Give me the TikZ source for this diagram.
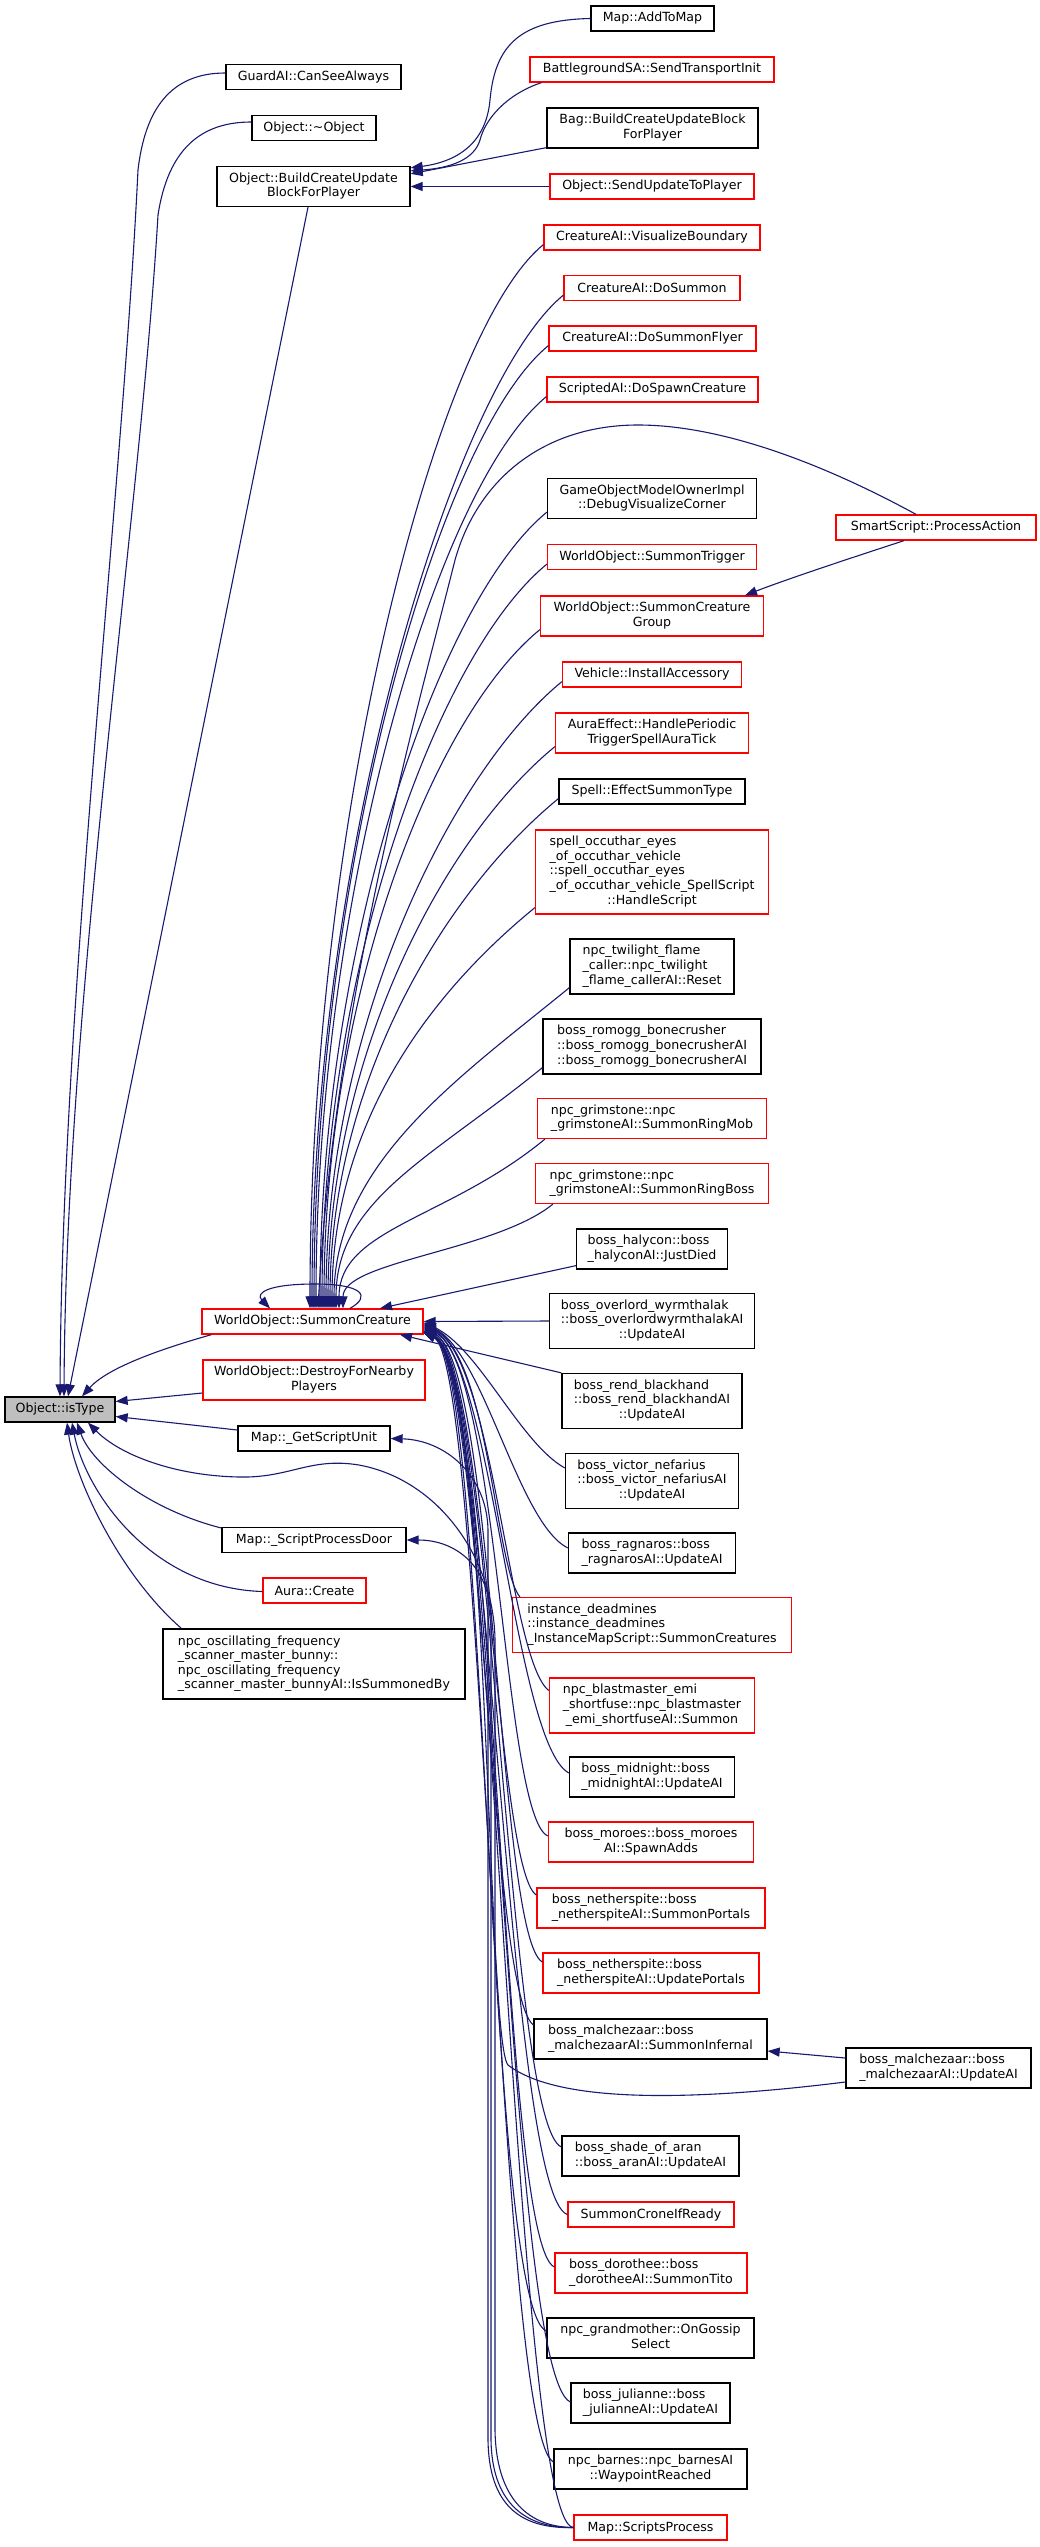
\documentclass[tikz,border=0pt]{standalone}
\usepackage{fontspec}
\setmainfont{DejaVu Sans}
\usetikzlibrary{arrows.meta}
\definecolor{edgec}{RGB}{25,25,112}
\definecolor{nodered}{RGB}{255,0,0}
\definecolor{isgray}{RGB}{191,191,191}
\newcommand{\ML}[2]{\begin{tabular}{@{}l@{}}#1\\\multicolumn{1}{@{}c@{}}{#2}\end{tabular}}
\begin{document}
\begin{tikzpicture}[x=1pt,y=1pt,
  nbox/.style={draw, line width=1.3pt, fill=white, inner sep=0pt, font=\fontsize{12.6pt}{14.6pt}\selectfont},
  bk/.style={nbox, draw=black},
  rd/.style={nbox, draw=nodered},
  gy/.style={nbox, draw=black, fill=isgray},
  h1/.style={minimum height=25pt},
  h2/.style={minimum height=40pt},
  h3/.style={minimum height=55pt},
  h4/.style={minimum height=70pt},
  h5/.style={minimum height=84pt},
  ed/.style={draw=edgec, line width=1.1pt, -{Triangle[length=12pt,width=9pt]}}
]
\useasboundingbox (0,0) rectangle (1039,-2547);
\fill[white] (0,0) rectangle (1039,-2547);

% right column
\node[bk,h1,minimum width=123pt] (mapadd) at (652.5,-18.5) {Map::AddToMap};
\node[rd,h1,minimum width=244pt] (bgsa) at (652,-69.5) {BattlegroundSA::SendTransportInit};
\node[bk,h2,minimum width=211pt] (bag) at (652.5,-128) {\ML{Bag::BuildCreateUpdateBlock}{ForPlayer}};
\node[rd,h1,minimum width=204pt] (sendupd) at (652,-186.5) {Object::SendUpdateToPlayer};
\node[rd,h1,minimum width=216pt] (visb) at (652,-237.5) {CreatureAI::VisualizeBoundary};
\node[rd,h1,minimum width=176pt] (dosum) at (652,-288) {CreatureAI::DoSummon};
\node[rd,h1,minimum width=207pt] (dosumf) at (652.5,-338.5) {CreatureAI::DoSummonFlyer};
\node[rd,h1,minimum width=211pt] (dospawn) at (652.5,-389.5) {ScriptedAI::DoSpawnCreature};
\node[bk,h2,minimum width=209pt] (gomo) at (652,-498.5) {\ML{GameObjectModelOwnerImpl}{::DebugVisualizeCorner}};
\node[rd,h1,minimum width=200pt] (smart) at (936,-527.5) {SmartScript::ProcessAction};
\node[rd,h1,minimum width=209pt] (sumtrig) at (652,-557) {WorldObject::SummonTrigger};
\node[rd,h2,minimum width=223pt] (sumgrp) at (652,-616) {\ML{WorldObject::SummonCreature}{Group}};
\node[rd,h1,minimum width=179pt] (vehicle) at (652,-674.5) {Vehicle::InstallAccessory};
\node[rd,h2,minimum width=193pt] (auraeff) at (652,-733) {\ML{AuraEffect::HandlePeriodic}{TriggerSpellAuraTick}};
\node[bk,h1,minimum width=186pt] (spellsum) at (652,-791.5) {Spell::EffectSummonType};
\node[rd,h5,minimum width=233pt] (occu) at (652,-872) {\ML{spell\_occuthar\_eyes\\\_of\_occuthar\_vehicle\\::spell\_occuthar\_eyes\\\_of\_occuthar\_vehicle\_SpellScript}{::HandleScript}};
\node[bk,h3,minimum width=164pt] (twil) at (652,-966.5) {\ML{npc\_twilight\_flame\\\_caller::npc\_twilight}{\_flame\_callerAI::Reset}};
\node[bk,h3,minimum width=218pt] (romogg) at (652,-1046.5) {\ML{boss\_romogg\_bonecrusher\\::boss\_romogg\_bonecrusherAI}{::boss\_romogg\_bonecrusherAI}};
\node[rd,h2,minimum width=229pt] (ringmob) at (652,-1118.5) {\ML{npc\_grimstone::npc}{\_grimstoneAI::SummonRingMob}};
\node[rd,h2,minimum width=233pt] (ringboss) at (652,-1183.5) {\ML{npc\_grimstone::npc}{\_grimstoneAI::SummonRingBoss}};
\node[bk,h2,minimum width=151pt] (halycon) at (652,-1249) {\ML{boss\_halycon::boss}{\_halyconAI::JustDied}};
\node[bk,h3,minimum width=205pt] (overlord) at (652,-1321) {\ML{boss\_overlord\_wyrmthalak\\::boss\_overlordwyrmthalakAI}{::UpdateAI}};
\node[bk,h3,minimum width=180pt] (rend) at (652,-1401) {\ML{boss\_rend\_blackhand\\::boss\_rend\_blackhandAI}{::UpdateAI}};
\node[bk,h3,minimum width=173pt] (victor) at (652,-1481) {\ML{boss\_victor\_nefarius\\::boss\_victor\_nefariusAI}{::UpdateAI}};
\node[bk,h2,minimum width=167pt] (ragnaros) at (652,-1553) {\ML{boss\_ragnaros::boss}{\_ragnarosAI::UpdateAI}};
\node[rd,h3,minimum width=279pt] (deadmines) at (652,-1625) {\ML{instance\_deadmines\\::instance\_deadmines}{\_InstanceMapScript::SummonCreatures}};
\node[rd,h3,minimum width=205pt] (blast) at (652,-1705.5) {\ML{npc\_blastmaster\_emi\\\_shortfuse::npc\_blastmaster}{\_emi\_shortfuseAI::Summon}};
\node[bk,h2,minimum width=165pt] (midnight) at (652,-1777) {\ML{boss\_midnight::boss}{\_midnightAI::UpdateAI}};
\node[rd,h2,minimum width=205pt] (moroes) at (651,-1842) {\ML{boss\_moroes::boss\_moroes}{AI::SpawnAdds}};
\node[rd,h2,minimum width=228pt] (nsumm) at (651,-1908) {\ML{boss\_netherspite::boss}{\_netherspiteAI::SummonPortals}};
\node[rd,h2,minimum width=216pt] (nupd) at (651,-1973) {\ML{boss\_netherspite::boss}{\_netherspiteAI::UpdatePortals}};
\node[bk,h2,minimum width=233pt] (malinf) at (650.5,-2039) {\ML{boss\_malchezaar::boss}{\_malchezaarAI::SummonInfernal}};
\node[bk,h2,minimum width=185pt] (malupd) at (938.5,-2068) {\ML{boss\_malchezaar::boss}{\_malchezaarAI::UpdateAI}};
\node[bk,h2,minimum width=177pt] (aran) at (650.5,-2156) {\ML{boss\_shade\_of\_aran}{::boss\_aranAI::UpdateAI}};
\node[rd,h1,minimum width=166pt] (crone) at (651,-2214.5) {SummonCroneIfReady};
\node[rd,h2,minimum width=192pt] (doro) at (651,-2273) {\ML{boss\_dorothee::boss}{\_dorotheeAI::SummonTito}};
\node[bk,h2,minimum width=207pt] (grand) at (650.5,-2338) {\ML{npc\_grandmother::OnGossip}{Select}};
\node[bk,h2,minimum width=159pt] (jul) at (650.5,-2403) {\ML{boss\_julianne::boss}{\_julianneAI::UpdateAI}};
\node[bk,h2,minimum width=193pt] (barnes) at (650.5,-2469) {\ML{npc\_barnes::npc\_barnesAI}{::WaypointReached}};
\node[rd,h1,minimum width=153pt] (scripts) at (650.5,-2527.5) {Map::ScriptsProcess};

% middle column
\node[bk,h1,minimum width=175pt] (guard) at (313.5,-77) {GuardAI::CanSeeAlways};
\node[bk,h1,minimum width=124pt] (dtor) at (314,-128) {Object::\textasciitilde Object};
\node[bk,h2,minimum width=193pt] (bcub) at (313.5,-186.5) {\ML{Object::BuildCreateUpdate}{BlockForPlayer}};
\node[rd,h1,minimum width=221pt] (sc) at (312.5,-1321.5) {WorldObject::SummonCreature};
\node[rd,h2,minimum width=222pt] (destroy) at (314,-1380) {\ML{WorldObject::DestroyForNearby}{Players}};
\node[bk,h1,minimum width=152pt] (gsu) at (314,-1438.5) {Map::\_GetScriptUnit};
\node[bk,h1,minimum width=184pt] (spd) at (314,-1540) {Map::\_ScriptProcessDoor};
\node[rd,h1,minimum width=103pt] (auracr) at (314.5,-1590.5) {Aura::Create};
\node[bk,h4,minimum width=302pt] (osc) at (314,-1664) {\ML{npc\_oscillating\_frequency\\\_scanner\_master\_bunny::\\npc\_oscillating\_frequency}{\_scanner\_master\_bunnyAI::IsSummonedBy}};

% left
\node[gy,h1,minimum width=110pt] (istype) at (60,-1409.5) {Object::isType};

% callers of BuildCreateUpdateBlockForPlayer
\draw[ed] (mapadd.west) .. controls (520,-20) and (495,-45) .. (490,-100) .. controls (486,-145) and (455,-162) .. ([yshift=-2pt]bcub.north east);
\draw[ed] ([xshift=12pt]bgsa.south west) .. controls (505,-95) and (485,-120) .. (480,-140) .. controls (474,-160) and (450,-168) .. ([yshift=-5pt]bcub.north east);
\draw[ed] ([yshift=1pt]bag.south west) -- ([yshift=-8pt]bcub.north east);
\draw[ed] (sendupd.west) -- (bcub.east);

% callers of isType
\draw[ed] ([yshift=4pt]guard.west) .. controls (170,-73) and (145,-110) .. (138,-170) .. controls (122,-500) and (62,-1000) .. (istype.north);
\draw[ed] ([yshift=6pt]dtor.west) .. controls (200,-122) and (168,-150) .. (158,-215) .. controls (140,-520) and (66,-1000) .. ([xshift=4pt]istype.north);
\draw[ed] ([xshift=-5.5pt]bcub.south) -- ([xshift=8pt]istype.north);
\draw[ed] ([xshift=10pt]sc.south west) .. controls (175,-1345) and (110,-1365) .. ([xshift=22pt]istype.north);
\draw[ed] ([yshift=-13pt]destroy.west) -- ([yshift=8pt]istype.east);
\draw[ed] ([yshift=8.5pt]gsu.west) -- ([yshift=-7pt]istype.east);
\draw[ed] ([yshift=12pt]spd.west) .. controls (150,-1510) and (92,-1465) .. ([xshift=17pt]istype.south);
\draw[ed] ([yshift=-1pt]auracr.west) .. controls (150,-1588) and (85,-1490) .. ([xshift=12pt]istype.south);
\draw[ed] ([xshift=19pt]osc.north west) .. controls (120,-1575) and (75,-1480) .. ([xshift=7pt]istype.south);

% Map::ScriptsProcess
\draw[ed] (scripts.west) .. controls (520,-2529) and (489,-2505) .. (488,-2440) -- (488,-1530) .. controls (487,-1475) and (445,-1440) .. (gsu.east);
\draw[ed] (scripts.west) .. controls (522,-2528) and (492,-2500) .. (491,-2440) -- (491,-1620) .. controls (490,-1565) and (455,-1540) .. (spd.east);
\draw[ed] (scripts.west) .. controls (525,-2527) and (496,-2495) .. (495,-2430) -- (495,-1640) .. controls (494,-1560) and (440,-1480) .. (359,-1465) .. controls (310,-1457) and (290,-1478) .. (240,-1477) .. controls (175,-1476) and (120,-1455) .. ([xshift=28pt]istype.south);
\draw[ed] (scripts.west) .. controls +(-60,5) and +(70,-30) .. ([yshift=-11pt]sc.east);

% lower callers of SummonCreature
\draw[ed] (overlord.west) -- (sc.east);
\draw[ed] (rend.north west) -- ([xshift=87.5pt]sc.south);
\draw[ed] ([yshift=4pt]halycon.south west) -- ([xshift=67.5pt]sc.north);
\draw[ed] ([yshift=13pt]victor.west) .. controls +(-45,25) and +(55,-25) .. ([yshift=-1pt]sc.east);
\draw[ed] ([yshift=5pt]ragnaros.west) .. controls +(-50,25) and +(60,-28) .. ([yshift=-2pt]sc.east);
\draw[ed] ([xshift=8pt]deadmines.north west) .. controls +(-25,30) and +(65,-30) .. ([yshift=-3pt]sc.east);
\draw[ed] ([yshift=15pt]blast.west) .. controls +(-40,30) and +(70,-30) .. ([yshift=-4pt]sc.east);
\draw[ed] ([yshift=4pt]midnight.west) .. controls +(-55,30) and +(68,-30) .. ([yshift=-5pt]sc.east);
\draw[ed] ([yshift=6pt]moroes.west) .. controls +(-45,20) and +(75,-32) .. ([yshift=-6pt]sc.east);
\draw[ed] ([yshift=13pt]nsumm.west) .. controls +(-40,25) and +(62,-28) .. ([yshift=-7pt]sc.east);
\draw[ed] ([yshift=11pt]nupd.west) .. controls +(-45,25) and +(72,-30) .. ([yshift=-8pt]sc.east);
\draw[ed] ([yshift=14pt]malinf.west) .. controls +(-45,35) and +(60,-30) .. ([yshift=-9pt]sc.east);
\draw[ed] ([yshift=9pt]aran.west) .. controls +(-55,25) and +(70,-30) .. ([yshift=-10pt]sc.east);
\draw[ed] (crone.west) .. controls +(-60,20) and +(66,-30) .. ([yshift=-10.5pt]sc.east);
\draw[ed] ([yshift=6pt]doro.west) .. controls +(-55,25) and +(74,-30) .. ([yshift=-11pt]sc.east);
\draw[ed] ([yshift=7pt]grand.west) .. controls +(-60,25) and +(64,-30) .. ([yshift=-11pt]sc.east);
\draw[ed] ([yshift=1pt]jul.west) .. controls +(-65,30) and +(72,-30) .. ([yshift=-11pt]sc.east);
\draw[ed] ([yshift=7pt]barnes.west) .. controls +(-55,30) and +(60,-30) .. ([yshift=-11pt]sc.east);
\draw[ed] ([yshift=-14pt]malupd.west) .. controls (700,-2100) and (560,-2105) .. (508,-2065) .. controls (486,-2040) and (490,-1360) .. ([yshift=-9.5pt]sc.east);
\draw[ed] ([yshift=10pt]malupd.west) -- ([yshift=-12pt]malinf.east);

% upper callers of SummonCreature
\draw[ed] ([yshift=6pt]visb.south west) .. controls +(-110,-90) and +(0,479) .. ([xshift=-2.5pt]sc.north);
\draw[ed] ([yshift=6pt]dosum.south west) .. controls +(-110,-90) and +(0,456) .. ([xshift=-0.5pt]sc.north);
\draw[ed] ([yshift=6pt]dosumf.south west) .. controls +(-110,-90) and +(0,434) .. ([xshift=1.5pt]sc.north);
\draw[ed] ([yshift=6pt]dospawn.south west) .. controls +(-110,-90) and +(0,411) .. ([xshift=3.5pt]sc.north);
\draw[ed] ([xshift=-20pt]smart.north) .. controls (820,-462) and (720,-425) .. (638,-425) .. controls (545,-425) and (478,-478) .. (455,-560) .. controls (420,-700) and (335,-1000) .. ([xshift=5.5pt]sc.north);
\draw[ed] ([yshift=7pt]gomo.south west) .. controls +(-110,-90) and +(0,359) .. ([xshift=7.5pt]sc.north);
\draw[ed] ([yshift=6pt]sumtrig.south west) .. controls +(-110,-90) and +(0,335) .. ([xshift=9.5pt]sc.north);
\draw[ed] ([yshift=7pt]sumgrp.south west) .. controls +(-110,-90) and +(0,306) .. ([xshift=11.5pt]sc.north);
\draw[ed] ([yshift=6pt]vehicle.south west) .. controls +(-110,-90) and +(0,283) .. ([xshift=13.5pt]sc.north);
\draw[ed] ([yshift=7pt]auraeff.south west) .. controls +(-110,-90) and +(0,253) .. ([xshift=15.5pt]sc.north);
\draw[ed] ([yshift=6pt]spellsum.south west) .. controls +(-110,-90) and +(0,230) .. ([xshift=17.5pt]sc.north);
\draw[ed] ([yshift=7pt]occu.south west) .. controls +(-110,-90) and +(0,181) .. ([xshift=19.5pt]sc.north);
\draw[ed] ([yshift=7pt]twil.south west) .. controls +(-110,-90) and +(0,145) .. ([xshift=21.5pt]sc.north);
\draw[ed] ([yshift=7pt]romogg.south west) .. controls +(-110,-90) and +(0,109) .. ([xshift=23.5pt]sc.north);
\draw[ed] ([xshift=8pt]ringmob.south west) .. controls +(-97,-80) and +(0,80) .. ([xshift=26.5pt]sc.north);
\draw[ed] ([xshift=18pt]ringboss.south west) .. controls +(-58,-47) and +(0,47) .. ([xshift=30.5pt]sc.north);
\draw[ed] ([xshift=-32pt]smart.south) .. controls (860,-555) and (790,-578) .. ([xshift=93pt]sumgrp.north);
% self loop
\draw[ed] ([xshift=37.5pt]sc.north) .. controls (372,-1296) and (362,-1284) .. (315,-1284) .. controls (268,-1284) and (255,-1293) .. ([xshift=-42.5pt]sc.north);
\end{tikzpicture}
\end{document}
